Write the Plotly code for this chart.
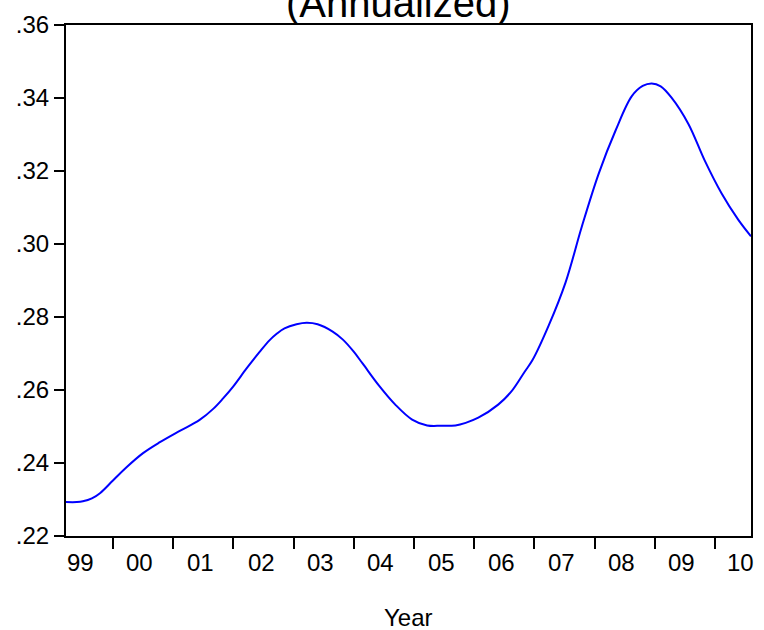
import plotly.graph_objects as go

# decimal-year positions and values
t = [1999.22, 1999.40, 1999.50, 1999.65, 1999.79, 2000.00, 2000.23, 2000.50, 2000.78,
     2001.11, 2001.44, 2001.67, 2001.83, 2002.00, 2002.22, 2002.44, 2002.60, 2002.72,
     2002.85, 2003.05, 2003.22, 2003.40, 2003.65, 2003.82, 2004.00, 2004.15, 2004.42,
     2004.69, 2004.97, 2005.22, 2005.45, 2005.69, 2005.86, 2006.07, 2006.40, 2006.62,
     2006.84, 2006.97, 2007.24, 2007.52, 2007.79, 2008.07, 2008.35, 2008.62, 2008.80,
     2008.95, 2009.10, 2009.28, 2009.56, 2009.83, 2010.11, 2010.39, 2010.60]
v = [0.2293, 0.2293, 0.2295, 0.2303, 0.2318, 0.2352, 0.2389, 0.2427, 0.2457,
     0.2488, 0.2518, 0.2549, 0.2577, 0.2610, 0.2659, 0.2705, 0.2736, 0.2754,
     0.2769, 0.2780, 0.2784, 0.2780, 0.2760, 0.2738, 0.2705, 0.2672, 0.2612,
     0.2560, 0.2519, 0.2503, 0.2502, 0.2503, 0.2510, 0.2524, 0.2560, 0.2596,
     0.2650, 0.2682, 0.2777, 0.2895, 0.3048, 0.3193, 0.3311, 0.3405, 0.3433,
     0.3440, 0.3432, 0.3401, 0.3329, 0.3229, 0.3139, 0.3066, 0.3021]

year_ticks = [2000, 2001, 2002, 2003, 2004, 2005, 2006, 2007, 2008, 2009, 2010]
year_label_pos = [1999.46, 2000.44, 2001.45, 2002.46, 2003.45, 2004.45, 2005.45,
                  2006.45, 2007.45, 2008.45, 2009.45, 2010.43]
year_labels = ["99", "00", "01", "02", "03", "04", "05", "06", "07", "08", "09", "10"]
y_ticks = [0.22, 0.24, 0.26, 0.28, 0.30, 0.32, 0.34, 0.36]
y_labels = [".22", ".24", ".26", ".28", ".30", ".32", ".34", ".36"]

FONT = "Liberation Sans, Arial, sans-serif"

fig = go.Figure()
fig.add_trace(go.Scatter(x=t, y=v, mode="lines",
                         line=dict(color="#0000FF", width=2, shape="spline", smoothing=1.0),
                         showlegend=False, hoverinfo="skip"))

fig.update_layout(
    width=764, height=630,
    margin=dict(l=66, r=11, t=20, b=94),
    paper_bgcolor="white", plot_bgcolor="white",
    font=dict(family=FONT, size=24, color="black"),
    xaxis=dict(range=[1999.22, 2010.6], tickvals=year_ticks, showticklabels=False,
               ticks="outside", ticklen=11, tickwidth=2, tickcolor="black",
               showline=True, linewidth=2, linecolor="black", mirror=True,
               showgrid=False, zeroline=False),
    yaxis=dict(range=[0.22, 0.36], tickvals=y_ticks, ticktext=y_labels,
               ticks="outside", ticklen=10, tickwidth=2, tickcolor="black",
               ticklabelstandoff=0,
               showline=True, linewidth=2, linecolor="black", mirror=True,
               showgrid=False, zeroline=False),
)

for pos, lab in zip(year_label_pos, year_labels):
    fig.add_annotation(x=pos, y=0, xref="x", yref="paper", text=lab, showarrow=False,
                       yanchor="middle", yshift=-26, font=dict(size=24))

fig.add_annotation(x=0.5, y=0, xref="paper", yref="paper", text="Year", showarrow=False,
                   yanchor="middle", yshift=-81, font=dict(size=24))
fig.add_annotation(x=0.485, y=1, xref="paper", yref="paper", text="(Annualized)",
                   showarrow=False, yanchor="bottom", yshift=-2, font=dict(size=40))

fig.write_html("out.html")
